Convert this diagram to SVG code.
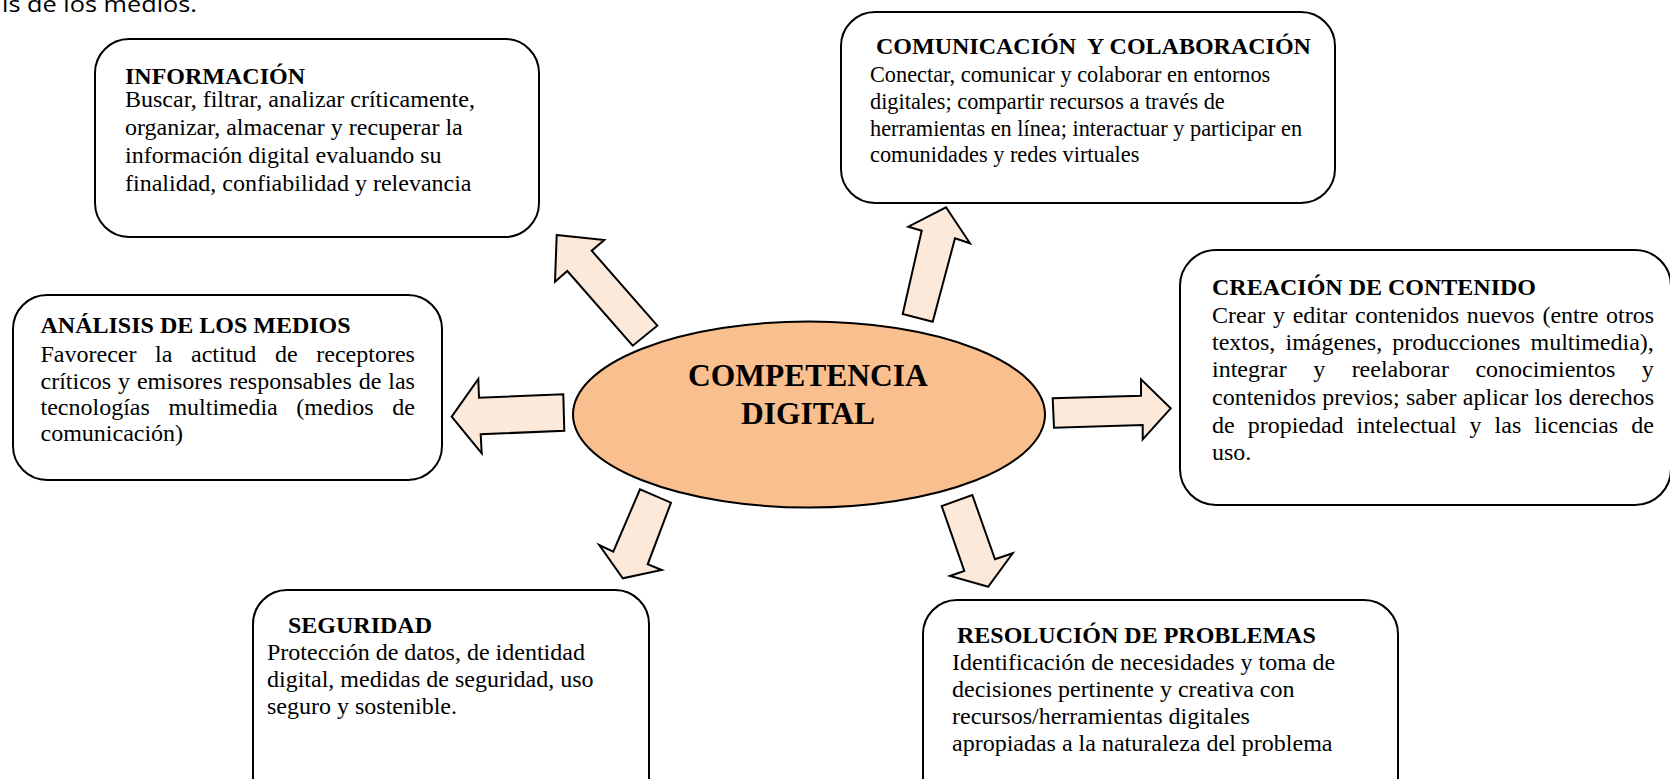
<svg xmlns="http://www.w3.org/2000/svg" width="1670" height="779" viewBox="0 0 1670 779">
<style>
.box{fill:#FFFFFF;stroke:#000000;stroke-width:2}
.arrow{fill:#FDE9D9;stroke:#000000;stroke-width:2;stroke-linejoin:miter}
.ell{fill:#FABF8F;stroke:#000000;stroke-width:2}
.t{font-family:"Liberation Serif","Times New Roman",serif;font-size:24px;fill:#000000}
.s{font-size:22.3px}
.b{font-weight:bold}
.c{font-family:"Liberation Serif","Times New Roman",serif;font-size:31.5px;font-weight:bold;fill:#000000;text-anchor:middle}
.top{font-family:"Open Sans","Liberation Sans",sans-serif;font-size:22px;fill:#000000}
</style>
<rect width="1670" height="779" fill="#FFFFFF"/>
<text class="top" x="2" y="12" textLength="195" lengthAdjust="spacingAndGlyphs">is de los medios.</text>

<g id="connectors">
<polygon class="arrow" points="556.7,235 604.3,240 591.7,250.7 657.3,325.7 632.7,345.7 567.3,271 555,281.7"/>
<polygon class="arrow" points="946,207.3 970,243.3 955,238.3 932.7,321.7 902.7,314 921.7,230.7 908.3,226.7"/>
<polygon class="arrow" points="451.7,416.7 478.3,379 479,397.7 563.3,394.3 564.3,430.7 480.7,434.3 481.7,453.3"/>
<polygon class="arrow" points="1170.7,408.3 1142.7,439.3 1142.7,425 1054,427.7 1052.7,398.3 1141,395.7 1141,379.3"/>
<polygon class="arrow" points="622.7,578.3 599.3,545 613.3,551.7 640,489.3 671,502.7 647.7,564.3 661.7,570"/>
<polygon class="arrow" points="988.3,586.7 950,576 964.3,571 941.7,506 972.3,495 995,559.3 1012.7,553.3"/>
</g>

<g id="center">
<ellipse class="ell" cx="809" cy="414.5" rx="236" ry="93"/>
<text class="c" x="808" y="386">COMPETENCIA</text>
<text class="c" x="808" y="424">DIGITAL</text>
</g>

<g id="informacion">
<rect class="box" x="95" y="39" width="444" height="198" rx="34" ry="34"/>
<text class="t b" x="125" y="84">INFORMACIÓN</text>
<text class="t" x="125" y="107">Buscar, filtrar, analizar críticamente,</text>
<text class="t" x="125" y="135">organizar, almacenar y recuperar la</text>
<text class="t" x="125" y="163">información digital evaluando su</text>
<text class="t" x="125" y="191">finalidad, confiabilidad y relevancia</text>
</g>

<g id="comunicacion">
<rect class="box" x="841" y="12" width="494" height="191" rx="34" ry="34"/>
<text class="t b" x="876" y="54" xml:space="preserve">COMUNICACIÓN  Y COLABORACIÓN</text>
<text class="t s" x="870" y="82">Conectar, comunicar y colaborar en entornos</text>
<text class="t s" x="870" y="109">digitales; compartir recursos a través de</text>
<text class="t s" x="870" y="135.5">herramientas en línea; interactuar y participar en</text>
<text class="t s" x="870" y="162">comunidades y redes virtuales</text>
</g>

<g id="analisis">
<rect class="box" x="13" y="295" width="429" height="185" rx="34" ry="34"/>
<text class="t b" x="40.5" y="332.5">ANÁLISIS DE LOS MEDIOS</text>
<text class="t" x="40.5" y="361.5" word-spacing="12.65">Favorecer la actitud de receptores</text>
<text class="t" x="40.5" y="388.5" word-spacing="0.9">críticos y emisores responsables de las</text>
<text class="t" x="40.5" y="415" word-spacing="12.6">tecnologías multimedia (medios de</text>
<text class="t" x="40.5" y="441">comunicación)</text>
</g>

<g id="creacion">
<rect class="box" x="1180" y="250" width="491" height="255" rx="36" ry="36"/>
<text class="t b" x="1212" y="295">CREACIÓN DE CONTENIDO</text>
<text class="t" x="1212" y="322.7" word-spacing="1.7">Crear y editar contenidos nuevos (entre otros</text>
<text class="t" x="1212" y="350" word-spacing="4.2">textos, imágenes, producciones multimedia),</text>
<text class="t" x="1212" y="377.3" word-spacing="20.5">integrar y reelaborar conocimientos y</text>
<text class="t" x="1212" y="405" word-spacing="0.3">contenidos previos; saber aplicar los derechos</text>
<text class="t" x="1212" y="432.7" word-spacing="7">de propiedad intelectual y las licencias de</text>
<text class="t" x="1212" y="460">uso.</text>
</g>

<g id="seguridad">
<rect class="box" x="253" y="590" width="396" height="230" rx="34" ry="34"/>
<text class="t b" x="288" y="633">SEGURIDAD</text>
<text class="t" x="267" y="660">Protección de datos, de identidad</text>
<text class="t" x="267" y="687">digital, medidas de seguridad, uso</text>
<text class="t" x="267" y="714">seguro y sostenible.</text>
</g>

<g id="resolucion">
<rect class="box" x="923" y="600" width="475" height="220" rx="34" ry="34"/>
<text class="t b" x="957" y="643">RESOLUCIÓN DE PROBLEMAS</text>
<text class="t" x="952" y="670">Identificación de necesidades y toma de</text>
<text class="t" x="952" y="697">decisiones pertinente y creativa con</text>
<text class="t" x="952" y="724">recursos/herramientas digitales</text>
<text class="t" x="952" y="751">apropiadas a la naturaleza del problema</text>
</g>
</svg>
